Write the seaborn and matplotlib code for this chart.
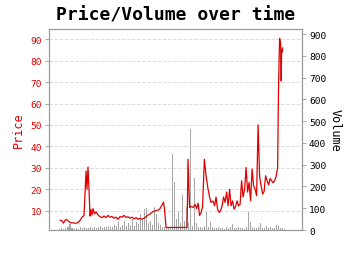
import numpy as np
import pandas as pd
import matplotlib
matplotlib.use("Agg")
import matplotlib.pyplot as plt
import seaborn as sns

# time in "tick units" (one unit per x tick)
price_t = [-0.035, 0.035, 0.087, 0.139, 0.191, 0.243, 0.313, 0.417, 0.522, 0.591, 0.661, 0.730,
           0.800, 0.835, 0.870, 0.904, 0.939, 0.974, 1.009, 1.043, 1.078, 1.113, 1.165, 1.217,
           1.287, 1.357, 1.426, 1.496, 1.565, 1.635, 1.704, 1.774, 1.843, 1.913, 1.983, 2.052,
           2.122, 2.191, 2.261, 2.330, 2.400, 2.470, 2.539, 2.609, 2.678, 2.748, 2.817, 2.887,
           2.957, 3.026, 3.096, 3.165, 3.235, 3.304, 3.374, 3.443, 3.565, 3.600, 3.652, 3.791,
           3.930, 4.070, 4.209, 4.383, 4.417, 4.470, 4.522, 4.591, 4.661, 4.713, 4.765, 4.817,
           4.870, 4.922, 4.983, 5.043, 5.113, 5.165, 5.217, 5.287, 5.339, 5.391, 5.443, 5.496,
           5.548, 5.600, 5.652, 5.704, 5.757, 5.809, 5.861, 5.913, 5.965, 6.017, 6.070, 6.122,
           6.174, 6.226, 6.278, 6.330, 6.383, 6.435, 6.487, 6.539, 6.591, 6.643, 6.696, 6.748,
           6.800, 6.852, 6.904, 6.957, 7.009, 7.061, 7.113, 7.165, 7.217, 7.270, 7.322, 7.374,
           7.426, 7.478, 7.530, 7.565, 7.600, 7.635, 7.655, 7.670, 7.687, 7.704]
price = [5.6, 5.3, 4.2, 5.5, 6.0, 5.3, 4.5, 4.3, 4.2, 4.5, 5.5, 7.0,
         7.8, 18.0, 28.5, 20.0, 30.4, 20.0, 7.5, 10.5, 8.0, 11.0, 8.5, 9.5,
         8.0, 7.2, 6.8, 7.5, 6.8, 7.8, 7.0, 7.3, 6.5, 7.0, 6.0, 7.3,
         7.0, 7.8, 6.9, 7.2, 6.5, 7.0, 6.2, 6.8, 6.0, 6.4, 6.0, 6.5,
         7.2, 8.0, 8.5, 9.3, 9.8, 10.0, 10.3, 11.0, 14.0, 10.5, 2.2, 2.2,
         2.2, 2.2, 2.2, 2.2, 34.0, 11.5, 12.0, 11.5, 13.0, 11.0, 13.5, 7.8,
         9.0, 12.0, 34.0, 26.3, 20.0, 16.4, 13.9, 14.5, 12.3, 16.4, 10.7, 9.2,
         10.0, 12.3, 16.4, 13.9, 18.7, 12.3, 20.0, 12.3, 14.6, 10.7, 12.0, 14.6,
         12.3, 13.0, 24.0, 16.4, 20.0, 30.2, 18.7, 23.2, 14.6, 29.4, 21.6, 20.0,
         17.0, 50.0, 26.0, 21.6, 17.8, 19.0, 26.3, 24.0, 22.0, 25.0, 24.0, 23.0,
         24.0, 26.0, 30.0, 70.0, 90.4, 88.0, 70.5, 85.0, 84.0, 86.0]

vol_t0 = -0.035
vol_step = 0.0696
volume = [5, 8, 6, 10, 12, 27, 8, 6, 10, 7, 12, 9, 14, 10, 8, 12, 10, 15, 9, 12,
          18, 10, 14, 12, 20, 15, 12, 23, 18, 37, 15, 25, 43, 20, 30, 25, 50, 20, 35, 28,
          73, 45, 96, 101, 30, 40, 25, 104, 73, 30, 22, 15, 12, 8, 10, 15, 349, 219, 50, 89,
          30, 161, 40, 104, 30, 463, 20, 238, 30, 15, 12, 10, 20, 89, 15, 37, 12, 10, 8, 12,
          8, 10, 7, 12, 9, 15, 27, 8, 10, 12, 8, 10, 7, 15, 89, 35, 12, 9, 10, 12,
          31, 8, 10, 20, 8, 12, 10, 9, 23, 18, 10, 8, 6]
vol_t = [vol_t0 + i * vol_step for i in range(len(volume))]

price_ticks = [10, 20, 30, 40, 50, 60, 70, 80, 90]
volume_ticks = [0, 100, 200, 300, 400, 500, 600, 700, 800, 900]
x_ticks = [0, 1, 2, 3, 4, 5, 6, 7, 8]

sns.set_style("white")
plt.rcParams['font.family'] = ['DejaVu Sans Mono', 'DejaVu Sans']
plt.rcParams['text.color'] = 'black'
plt.rcParams['axes.labelcolor'] = 'black'

fig = plt.figure(figsize=(3.5, 2.55), dpi=100)
ax = fig.add_axes([0.14, 0.094, 0.723, 0.788])
ax2 = ax.twinx()

df_p = pd.DataFrame({"t": price_t, "price": price})

ax2.bar(vol_t, volume, width=0.035, color="#888888", alpha=0.75, linewidth=0)
ax2.set_ylim(0, 923)
ax2.set_yticks(volume_ticks)

sns.lineplot(data=df_p, x="t", y="price", ax=ax, color="#e00000", linewidth=0.9)
ax.set_ylim(1.0, 94.7)
ax.set_xlim(-0.417, 8.38)
ax.set_yticks(price_ticks)
ax.set_xticks(x_ticks)
ax.set_xticklabels([])
ax.set_xlabel("")
ax.grid(axis="y", linestyle="--", color="#dddddd", linewidth=0.7)
ax.set_axisbelow(True)

ax.set_zorder(ax2.get_zorder() + 1)
ax.patch.set_visible(False)

ax.set_ylabel("Price", color="#e00000", fontsize=8.5, labelpad=4)
ax2.set_ylabel("Volume", color="black", fontsize=8.5, rotation=270, labelpad=11)

ax.tick_params(axis="y", colors="#999999", labelcolor="#e00000", labelsize=6.8, length=3, width=0.6, pad=2)
ax.tick_params(axis="x", colors="#999999", length=3, width=0.6)
ax2.tick_params(axis="y", colors="#999999", labelcolor="black", labelsize=6.8, length=3, width=0.6, pad=2)

for a in (ax, ax2):
    for s in a.spines.values():
        s.set_color("#999999")
        s.set_linewidth(0.8)

ax.set_title("Price/Volume over time", fontsize=13, fontweight="bold", color="black", pad=7)

fig.savefig("out.png", dpi=100)
